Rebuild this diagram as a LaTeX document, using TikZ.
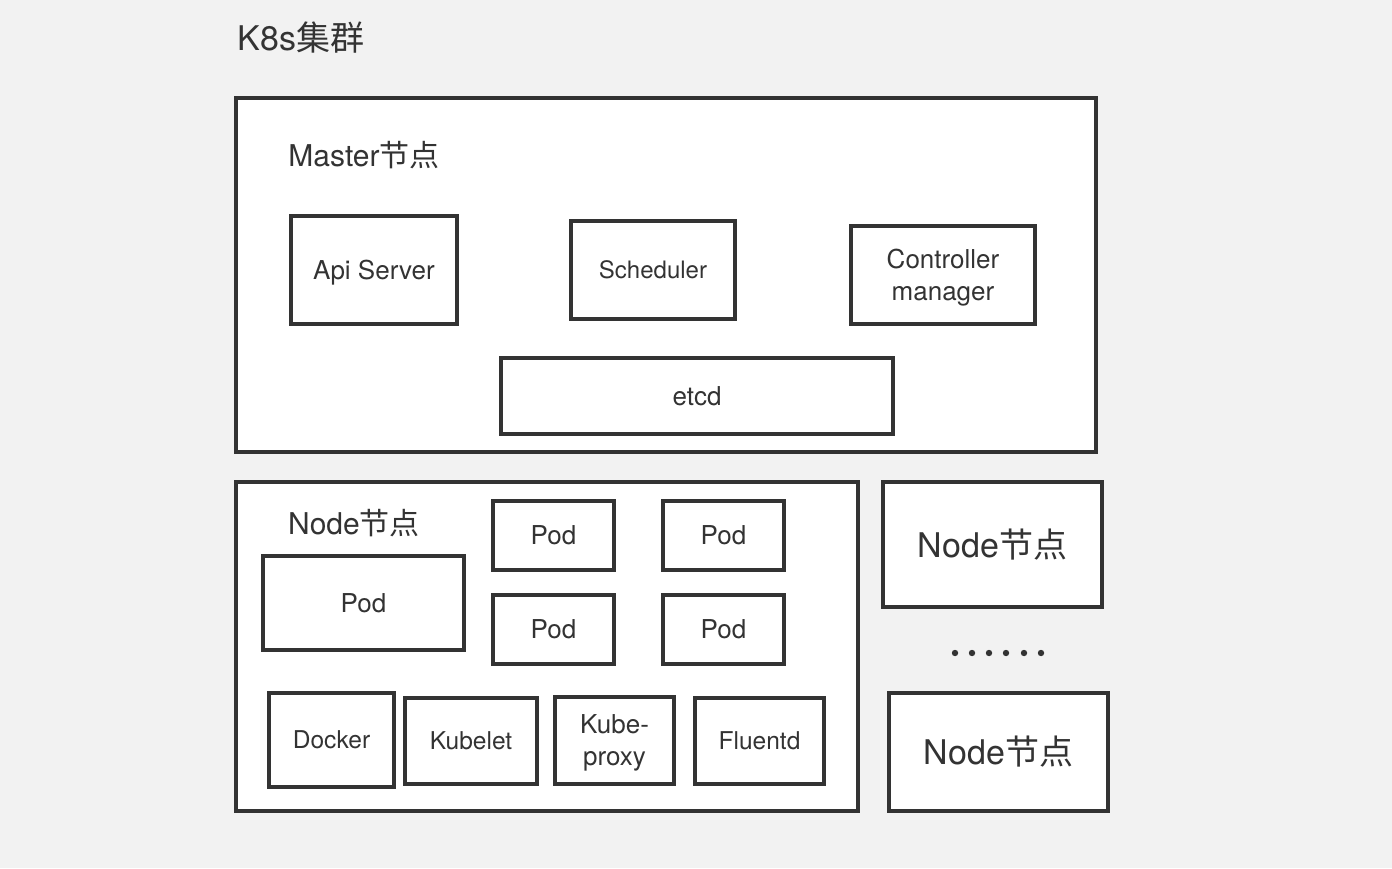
\documentclass[tikz,border=0pt]{standalone}
\usepackage{fontspec}
\setmainfont{TeX Gyre Heros}
\newfontfamily\cjk{Noto Sans CJK SC}
\definecolor{bg}{HTML}{F2F2F2}
\definecolor{ink}{HTML}{333333}
\newcommand{\fs}[1]{\fontsize{#1}{24pt}\selectfont}
\begin{document}
\begin{tikzpicture}[x=0.75pt,y=-0.75pt,
  box/.style={draw=ink,fill=white,line width=2.8pt,rectangle,inner sep=0pt,align=center,text=ink},
  lat/.style={text depth=0pt},
  sz/.style 2 args={minimum width=#1*0.75pt,minimum height=#2*0.75pt},
  lbl/.style={text=ink,inner sep=0pt}]
\fill[bg] (0,0) rectangle (1392,868);
\useasboundingbox (0,0) rectangle (1392,868);
\node[lbl,font=\fs{25.5pt}] (title) at (301,38) {K8s{\cjk 集群}};
\node[box,sz={860}{354}] (master) at (666,275) {};
\node[lbl,font=\fs{22.5pt}] (mlabel) at (364,155) {Master{\cjk 节点}};
\node[box,lat,sz={166}{108},font=\fs{19.5pt}] (api) at (374,270) {Api Server};
\node[box,lat,sz={164}{98},font=\fs{18pt}] (sched) at (653,270) {Scheduler};
\node[box,lat,sz={184}{98},font=\fs{19.5pt}] (ctrl) at (943,275) {Controller\\manager};
\node[box,lat,sz={392}{76},font=\fs{19.5pt}] (etcd) at (697,396) {etcd};
\node[box,sz={622}{329}] (node) at (547,646.5) {};
\node[lbl,font=\fs{22.5pt}] (nlabel) at (354,523) {Node{\cjk 节点}};
\node[box,lat,sz={201}{94},font=\fs{19.5pt}] (podbig) at (363.5,603) {Pod};
\node[box,lat,sz={121}{69},font=\fs{19.5pt}] (pod1) at (553.5,535.5) {Pod};
\node[box,lat,sz={121}{69},font=\fs{19.5pt}] (pod2) at (723.5,535.5) {Pod};
\node[box,lat,sz={121}{69},font=\fs{19.5pt}] (pod3) at (553.5,629.5) {Pod};
\node[box,lat,sz={121}{69},font=\fs{19.5pt}] (pod4) at (723.5,629.5) {Pod};
\node[box,lat,sz={125}{94},font=\fs{18.4pt}] (docker) at (331.5,740) {Docker};
\node[box,lat,sz={132}{86},font=\fs{18.4pt}] (kubelet) at (471,741) {Kubelet};
\node[box,lat,sz={119}{87},font=\fs{19.5pt}] (proxy) at (614.5,740.5) {Kube-\\proxy};
\node[box,lat,sz={129}{86},font=\fs{18.4pt}] (fluentd) at (759.5,741) {Fluentd};
\node[box,sz={219}{125},font=\fs{25.5pt}] (node2) at (992.5,544.5) {Node{\cjk 节点}};
\node[box,sz={219}{118},font=\fs{25.5pt}] (node3) at (998.5,752) {Node{\cjk 节点}};
\foreach \i/\x in {1/955,2/972,3/989,4/1006,5/1024,6/1041}
  \fill[ink] (\x,653) circle[radius=3.2];
\end{tikzpicture}
\end{document}
